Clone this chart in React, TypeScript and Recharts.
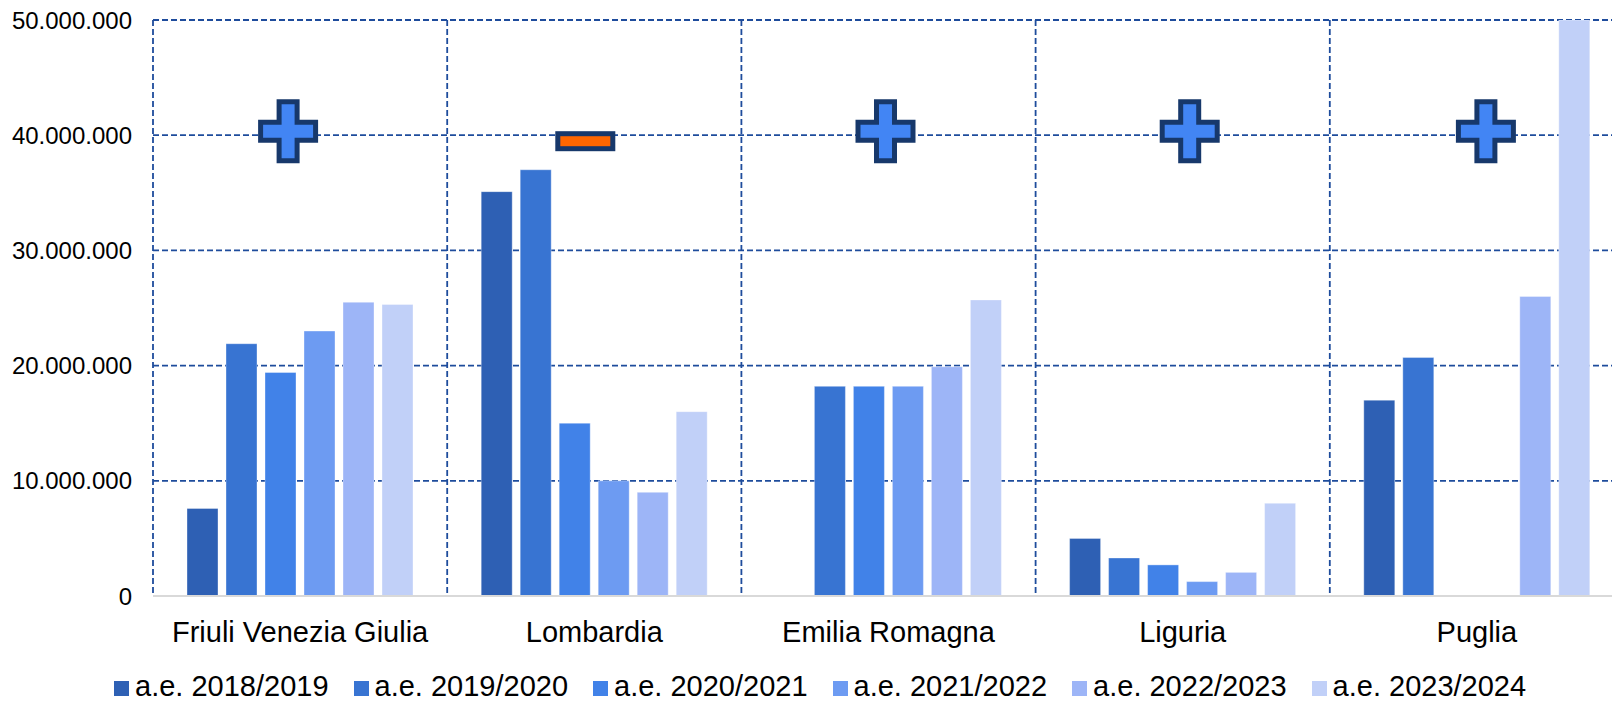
import React from "react";
import {
  ComposedChart,
  Bar,
  Line,
  XAxis,
  YAxis,
  CartesianGrid,
} from "recharts";

const regions = [
  "Friuli Venezia Giulia",
  "Lombardia",
  "Emilia Romagna",
  "Liguria",
  "Puglia",
];

const ae2018 = [7600000, 35100000, null, 5000000, 17000000];
const ae2019 = [21900000, 37000000, 18200000, 3300000, 20700000];
const ae2020 = [19400000, 15000000, 18200000, 2700000, null];
const ae2021 = [23000000, 10000000, 18200000, 1250000, null];
const ae2022 = [25500000, 9000000, 19900000, 2050000, 26000000];
const ae2023 = [25300000, 16000000, 25700000, 8050000, 50000000];

// segno del trend per regione, disegnato a quota 40.000.000
const trendSign = ["+", "-", "+", "+", "+"];
const trendLevel = [40000000, 40000000, 40000000, 40000000, 40000000];

const seriesNames = [
  "a.e. 2018/2019",
  "a.e. 2019/2020",
  "a.e. 2020/2021",
  "a.e. 2021/2022",
  "a.e. 2022/2023",
  "a.e. 2023/2024",
];
const seriesValues = [ae2018, ae2019, ae2020, ae2021, ae2022, ae2023];
const seriesColors = [
  "#2E60B4",
  "#3874D2",
  "#4182E8",
  "#6D9BF2",
  "#9DB5F7",
  "#C1D0F8",
];

const yTicks = [0, 10000000, 20000000, 30000000, 40000000, 50000000];

const data = regions.map((region, i) => {
  const row: Record<string, any> = { region, trend: trendLevel[i], sign: trendSign[i] };
  seriesValues.forEach((vals, s) => {
    row["s" + s] = vals[i];
  });
  return row;
});

const FONT = "'Liberation Sans', Arial, sans-serif";
const GRID = "#1E4C9C";

const fmt = (v: number) => String(v).replace(/\B(?=(\d{3})+(?!\d))/g, ".");

// the markers in the original sit a little off the category centres
const markerNudge = [-12, -9, -3, 7, 9];

function TrendMarker(props: any) {
  const { cx, cy, payload, index } = props;
  if (cx == null || cy == null) return null;
  const x = cx + (markerNudge[index] || 0);
  if (payload.sign === "-") {
    const w = 55;
    const h = 15;
    const y = cy + 6;
    return (
      <rect
        x={x - w / 2}
        y={y - h / 2}
        width={w}
        height={h}
        fill="#FF6600"
        stroke="#17386B"
        strokeWidth={5}
      />
    );
  }
  const y = cy - 4;
  const hw = 27.5;
  const hh = 29.5;
  const a = 9;
  const pts = [
    [-a, -hh],
    [a, -hh],
    [a, -a],
    [hw, -a],
    [hw, a],
    [a, a],
    [a, hh],
    [-a, hh],
    [-a, a],
    [-hw, a],
    [-hw, -a],
    [-a, -a],
  ]
    .map(([px, py]) => `${x + px},${y + py}`)
    .join(" ");
  return (
    <polygon points={pts} fill="#4285F4" stroke="#17386B" strokeWidth={5} />
  );
}

export default function App() {
  return (
    <div style={{ position: "relative", margin: -8, width: 1620, height: 705, background: "#fff", overflow: "hidden" }}>
      <ComposedChart
        width={1620}
        height={705}
        data={data}
        margin={{ top: 20, right: -4, left: 0, bottom: 49 }}
        barSize={31}
        barGap={8}
      >
        <CartesianGrid
          stroke={GRID}
          strokeWidth={1.8}
          strokeDasharray="6 3"
          verticalCoordinatesGenerator={({ offset }: any) =>
            regions.map((_, i) => offset.left + (i * offset.width) / regions.length)
          }
        />
        <XAxis
          dataKey="region"
          height={60}
          tickLine={false}
          tickSize={6}
          tickMargin={19}
          axisLine={{ stroke: "#D9D9D9", strokeWidth: 2 }}
          tick={{ fill: "#000", fontSize: 29, fontFamily: FONT }}
          interval={0}
        />
        <YAxis
          width={153}
          domain={[0, 50000000]}
          ticks={yTicks}
          tickFormatter={fmt}
          tickLine={false}
          axisLine={false}
          tickSize={6}
          tickMargin={15}
          tick={{ fill: "#000", fontSize: 24, fontFamily: FONT }}
          allowDataOverflow
        />
        {seriesNames.map((name, s) => (
          <Bar
            key={name}
            dataKey={"s" + s}
            name={name}
            fill={seriesColors[s]}
            stroke="rgba(255,255,255,0.35)"
            strokeWidth={1}
            isAnimationActive={false}
          />
        ))}
        <Line
          dataKey="trend"
          stroke="none"
          dot={<TrendMarker />}
          activeDot={false}
          isAnimationActive={false}
          legendType="none"
        />
      </ComposedChart>
      <div
        style={{
          position: "absolute",
          left: 114,
          top: 672,
          display: "flex",
          alignItems: "baseline",
          fontFamily: FONT,
          fontSize: 29,
          lineHeight: "29px",
          color: "#000",
          whiteSpace: "nowrap",
        }}
      >
        {seriesNames.map((name, s) => (
          <div key={name} style={{ marginRight: 25 }}>
            <span
              style={{
                display: "inline-block",
                width: 15,
                height: 15,
                marginRight: 6,
                background: seriesColors[s],
              }}
            />
            {name}
          </div>
        ))}
      </div>
    </div>
  );
}
